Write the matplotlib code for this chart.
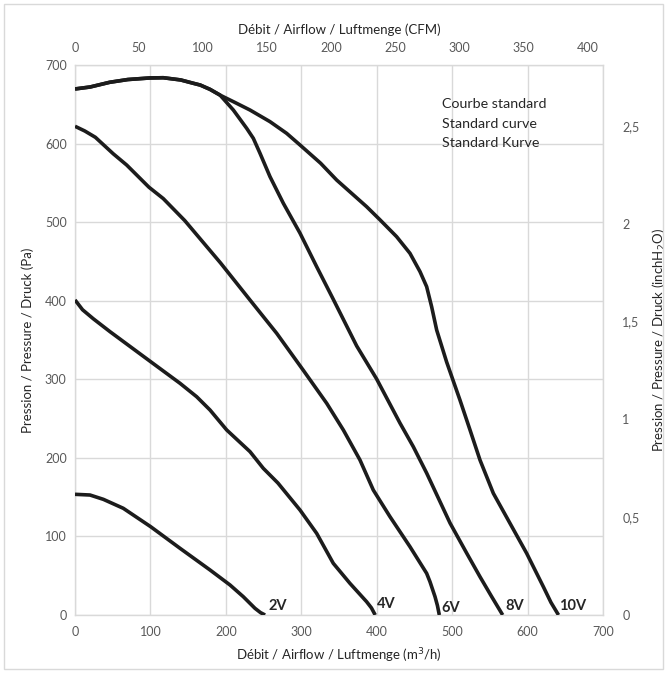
import matplotlib
matplotlib.use("Agg")
import matplotlib.pyplot as plt
from matplotlib.patches import Rectangle
from matplotlib.ticker import FuncFormatter

plt.rcParams['font.family'] = ['Lato', 'DejaVu Sans']

# ---- data (m3/h, Pa) ----
v10_x = [0, 20, 46, 70, 99, 117, 140, 157, 166, 179, 192, 210, 232, 258.5, 280.6, 298.3, 325.6, 346.9, 386.6, 404.3, 426.4, 444.1, 457.4, 466.2, 472.8, 479.5, 492.7, 510.4, 523.7, 536.9, 554.6, 576.7, 598.8, 620.9, 631, 641]
v10_y = [669.5, 672, 678, 681.5, 683.5, 683.8, 681, 676.7, 674.5, 669, 661.8, 653.3, 642.7, 627.9, 613, 598.2, 575, 553.6, 519.7, 503, 481.5, 460.3, 437, 417.9, 392.4, 362.7, 322, 273.5, 235.5, 197.3, 154.9, 116.7, 78.5, 36, 16, 0]

v8_x = [0, 20, 46, 70, 99, 117, 140, 157, 166, 179, 192.2, 209.9, 227.6, 236.4, 245.3, 258.5, 276.2, 298.3, 320.4, 342.4, 373.4, 399.9, 430.8, 448.5, 466.2, 497.2, 519.4, 536.9, 552, 567]
v8_y = [669.5, 672, 678, 681.5, 683.5, 683.8, 681, 676.7, 674.5, 669, 661.8, 642.7, 619.4, 606.7, 587.6, 557.9, 524, 486, 443.3, 401.8, 342.5, 300.4, 244.3, 214.2, 180.6, 117, 78.5, 48.7, 24, 0]

v6_x = [0, 13, 27, 50.7, 68.5, 98, 117, 145.5, 193, 232, 267.4, 302.7, 333.7, 355.8, 377.8, 395.5, 417.6, 444.1, 466.2, 470.6, 477.3, 480.5, 483]
v6_y = [622, 616, 608, 587, 572.7, 544.5, 530, 502, 448, 400.9, 358.5, 311.4, 269.4, 235.4, 197.3, 159, 125.1, 86.9, 53, 42.4, 23.3, 12, 0]

v4_x = [0, 10, 24.3, 46.4, 100.3, 139.2, 161.3, 179, 201.1, 232, 249.6, 269, 298.3, 320.4, 342.4, 364.5, 386.6, 393, 398]
v4_y = [401, 388.5, 377, 360.6, 322.4, 294.9, 277.8, 260.9, 235.5, 207.9, 186.7, 168, 133.6, 103.9, 65.8, 40.3, 16.9, 9, 0]

v2_x = [0, 19.9, 37.6, 64, 100.3, 139.2, 179, 205.5, 223.1, 238.6, 246, 252]
v2_y = [153.6, 152.7, 147.2, 135.8, 112.4, 84.9, 57.3, 38.2, 23.3, 8.5, 3, 0]

curve_labels = ['2V', '4V', '6V', '8V', '10V']
label_x = [256, 400, 486, 571, 642]
label_y = [11, 14, 9.5, 11, 12]

note_lines = ['Courbe standard', 'Standard curve', 'Standard Kurve']

x_ticks = list(range(0, 701, 100))
y_ticks = list(range(0, 701, 100))
cfm_ticks = list(range(0, 401, 50))
inh2o_ticks = [0, 0.5, 1, 1.5, 2, 2.5]

M3H_PER_CFM = 1.699
PA_PER_INH2O = 249.09

fig = plt.figure(figsize=(6.67, 6.73), dpi=100)
ax = fig.add_axes([75/667, 1-615/673, (603-75)/667, (615-65)/673])

grid_c = '#d9d9d9'
tick_c = '#595959'
lab_c = '#262626'
line_c = '#1c1c1c'

ax.set_xlim(0, 700)
ax.set_ylim(0, 700)
ax.set_xticks(x_ticks)
ax.set_yticks(y_ticks)
ax.grid(True, color=grid_c, linewidth=1.0)
ax.set_axisbelow(True)
for s in ax.spines.values():
    s.set_visible(False)
ax.tick_params(length=0, labelsize=9, colors=tick_c, pad=6)
ax.tick_params(axis='x', pad=8)
for (xs, ys) in [((0, 700), (0, 0)), ((0, 700), (700, 700)), ((0, 0), (0, 700)), ((700, 700), (0, 700))]:
    ax.plot(xs, ys, color=grid_c, lw=1.0, zorder=0.5, clip_on=False)

for xs, ys in [(v2_x, v2_y), (v4_x, v4_y), (v6_x, v6_y), (v8_x, v8_y), (v10_x, v10_y)]:
    ax.plot(xs, ys, color=line_c, lw=2.6, solid_capstyle='butt', solid_joinstyle='round')

for t, x, y in zip(curve_labels, label_x, label_y):
    ax.text(x, y, t, fontsize=10.5, fontweight='bold', color=lab_c, ha='left', va='center')

for i, t in enumerate(note_lines):
    ax.text(486, 658 - i * 25, t, fontsize=10.3, color=lab_c, ha='left', va='top')

ax.set_xlabel('Débit / Airflow / Luftmenge (m$^3$/h)', fontsize=9.5, color=lab_c, labelpad=6)
ax.set_ylabel('Pression / Pressure / Druck (Pa)', fontsize=9.5, color=lab_c, labelpad=8)

top = ax.secondary_xaxis('top', functions=(lambda x: x / M3H_PER_CFM, lambda c: c * M3H_PER_CFM))
top.set_xticks(cfm_ticks)
top.tick_params(length=0, labelsize=9, colors=tick_c, pad=8)
for s in top.spines.values():
    s.set_visible(False)
top.set_xlabel('Débit / Airflow / Luftmenge (CFM)', fontsize=9.5, color=lab_c, labelpad=6)

right = ax.secondary_yaxis('right', functions=(lambda p: p / PA_PER_INH2O, lambda h: h * PA_PER_INH2O))
right.set_yticks(inh2o_ticks)
right.yaxis.set_major_formatter(FuncFormatter(lambda v, p: ('%g' % v).replace('.', ',')))
right.tick_params(length=0, labelsize=9, colors=tick_c, pad=14)
for s in right.spines.values():
    s.set_visible(False)
right.set_ylabel('Pression / Pressure / Druck (inchH$_2$O)', fontsize=9.5, color=lab_c, labelpad=8)

fig.patches.append(Rectangle((4/667, 4/673), 659/667, 665/673, transform=fig.transFigure,
                             fill=False, edgecolor='#d9d9d9', linewidth=1.0))

fig.savefig('out.png', dpi=100)
